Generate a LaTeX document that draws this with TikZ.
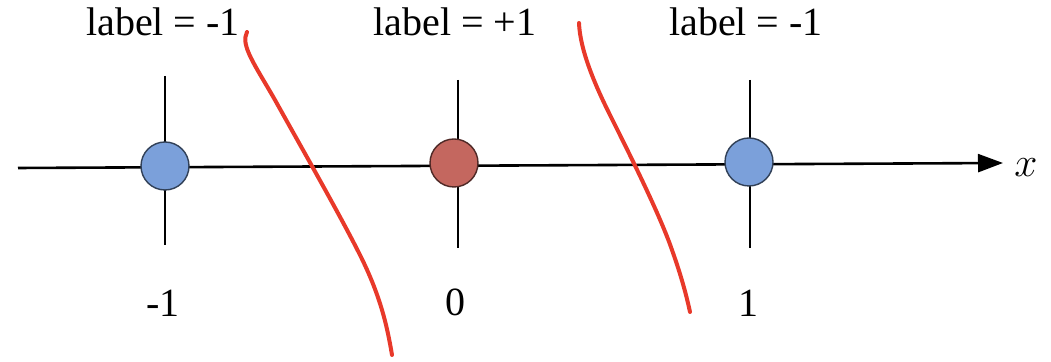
\documentclass[tikz,border=0pt]{standalone}
\usepackage{fontspec}
\setmainfont{Liberation Serif}
\usepackage{tikz}
\usetikzlibrary{arrows.meta,positioning}
\definecolor{ptblue}{HTML}{7BA0DA}
\definecolor{ptred}{HTML}{C4675F}
\definecolor{pen}{HTML}{E8392A}

\begin{document}
\begin{tikzpicture}[
  x=0.5pt, y=-0.5pt,
  every node/.style={font=\fontsize{20}{24}\selectfont, inner sep=0pt},
  axis/.style={-{Triangle[length=12.5pt, width=9pt]}, line width=1.3pt},
  tick/.style={line width=0.7pt},
  pt/.style={circle, draw, line width=0.7pt, minimum size=24pt},
  stroke/.style={pen, line width=2pt, line cap=round}
]
\useasboundingbox (0,0) rectangle (1051,362);

% the number line
\coordinate (xl) at (18,168);
\coordinate (xr) at (1003,163);
\draw[axis] (xl) -- (xr);
\node (xlab) at (1026,168) {$x$};

% ticks
\draw[tick] (165,76) -- (165,245);
\draw[tick] (458,80) -- (458,248);
\draw[tick] (750,80) -- (750,248);

% points
\node[pt, fill=ptblue, draw=ptblue!40!black] (pm) at (165,166) {};
\node[pt, fill=ptred, draw=ptred!40!black] (p0) at (454,163) {};
\node[pt, fill=ptblue, draw=ptblue!40!black] (pp) at (749,162) {};

% labels above
\node (lm) at (163,22) {label = -1};
\node (l0) at (455,22) {label = +1};
\node (lp) at (746,22) {label = -1};

% values below
\node (vm) at (163,303) {-1};
\node (v0) at (455,302) {0};
\node (vp) at (748,303) {1};

% hand-drawn separators
\draw[stroke] (247,32) .. controls (240,45) and (255,65) .. (275,100)
  .. controls (300,145) and (340,215) .. (360,255)
  .. controls (380,295) and (387,325) .. (392,355);
\draw[stroke] (579,23) .. controls (580,50) and (595,85) .. (610,115)
  .. controls (630,155) and (660,215) .. (672,250)
  .. controls (682,278) and (687,298) .. (690,312);
\end{tikzpicture}
\end{document}
